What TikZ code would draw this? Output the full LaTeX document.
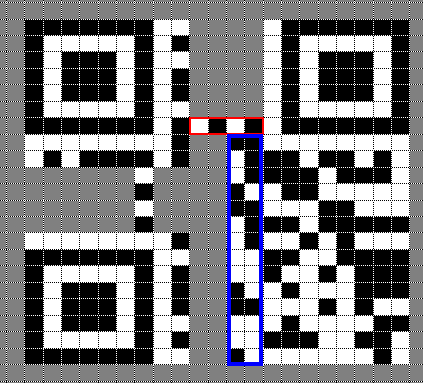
\documentclass[tikz,border=0pt]{standalone}
\usepackage{tikz}
\usetikzlibrary{calc}
\definecolor{mB}{RGB}{0,0,0}
\definecolor{mW}{RGB}{255,255,255}
\definecolor{mG}{RGB}{128,128,128}

\begin{document}
\begin{tikzpicture}[x=18.32pt, y=-16.46pt]

    % Background (quiet zone and unfilled modules)
    \useasboundingbox (-1.3646,-1.1543) rectangle (21.7249,22.1142);
    \fill[mG] (-1.3646,-1.1543) rectangle (21.7249,22.1142);

    % --- Module matrix: B = dark, W = light, G = not yet placed ---
    \foreach \r/\row in {
        0/{B,B,B,B,B,B,B,W,W,G,G,G,G,W,B,B,B,B,B,B,B},
        1/{B,W,W,W,W,W,B,W,B,G,G,G,G,W,B,W,W,W,W,W,B},
        2/{B,W,B,B,B,W,B,W,W,G,G,G,G,W,B,W,B,B,B,W,B},
        3/{B,W,B,B,B,W,B,W,B,G,G,G,G,W,B,W,B,B,B,W,B},
        4/{B,W,B,B,B,W,B,W,B,G,G,G,G,W,B,W,B,B,B,W,B},
        5/{B,W,W,W,W,W,B,W,W,G,G,G,G,W,B,W,W,W,W,W,B},
        6/{B,B,B,B,B,B,B,W,B,W,B,W,B,W,B,B,B,B,B,B,B},
        7/{W,W,W,W,W,W,W,W,B,G,G,B,B,W,W,W,W,W,W,W,W},
        8/{W,B,W,B,B,B,B,W,B,G,G,W,B,B,B,W,B,B,W,B,W},
        9/{G,G,G,G,G,G,W,G,G,G,G,W,B,B,B,B,W,B,B,B,W},
        10/{G,G,G,G,G,G,B,G,G,G,G,B,W,W,B,B,W,W,W,W,W},
        11/{G,G,G,G,G,G,W,G,G,G,G,B,B,W,W,W,B,B,W,W,W},
        12/{G,G,G,G,G,G,B,G,G,G,G,W,B,B,B,W,B,B,B,B,B},
        13/{W,W,W,W,W,W,W,W,B,G,G,W,B,W,W,B,W,B,W,W,W},
        14/{B,B,B,B,B,B,B,W,W,G,G,W,W,B,B,W,W,B,B,B,B},
        15/{B,W,W,W,W,W,B,W,B,G,G,W,W,B,W,W,B,W,B,B,B},
        16/{B,W,B,B,B,W,B,W,B,G,G,B,W,W,B,W,W,W,B,B,B},
        17/{B,W,B,B,B,W,B,W,B,G,G,B,B,W,W,W,B,W,B,W,W},
        18/{B,W,B,B,B,W,B,W,W,G,G,W,W,W,B,W,W,W,W,B,B},
        19/{B,W,W,W,W,W,B,W,B,G,G,W,W,B,B,B,W,W,B,B,W},
        20/{B,B,B,B,B,B,B,W,W,G,G,B,W,W,W,W,W,W,W,B,W}} {
        \foreach \v [count=\c from 0] in \row {
            \fill[m\v] (\c,\r) rectangle ++(1,1);
        }
    }

    % --- Dotted grid ---
    \foreach \k in {-1,...,21} {
        \draw[white, line width=1pt] (\k,-1.1543) -- (\k,22.1142);
        \draw[black, line width=1pt, dash pattern=on 1pt off 1pt] (\k,-1.1543) -- (\k,22.1142);
    }
    \foreach \k in {-1,...,22} {
        \draw[white, line width=1pt] (-1.3646,\k) -- (21.7249,\k);
        \draw[black, line width=1pt, dash pattern=on 1pt off 1pt] (-1.3646,\k) -- (21.7249,\k);
    }

    % --- Highlights ---
    % Timing modules
    \draw[red, line width=1.7pt] (9,6) rectangle (13,7);
    % Current column pair
    \draw[blue, line width=4pt] (11.11,7.12) rectangle (12.89,20.94);

\end{tikzpicture}
\end{document}
